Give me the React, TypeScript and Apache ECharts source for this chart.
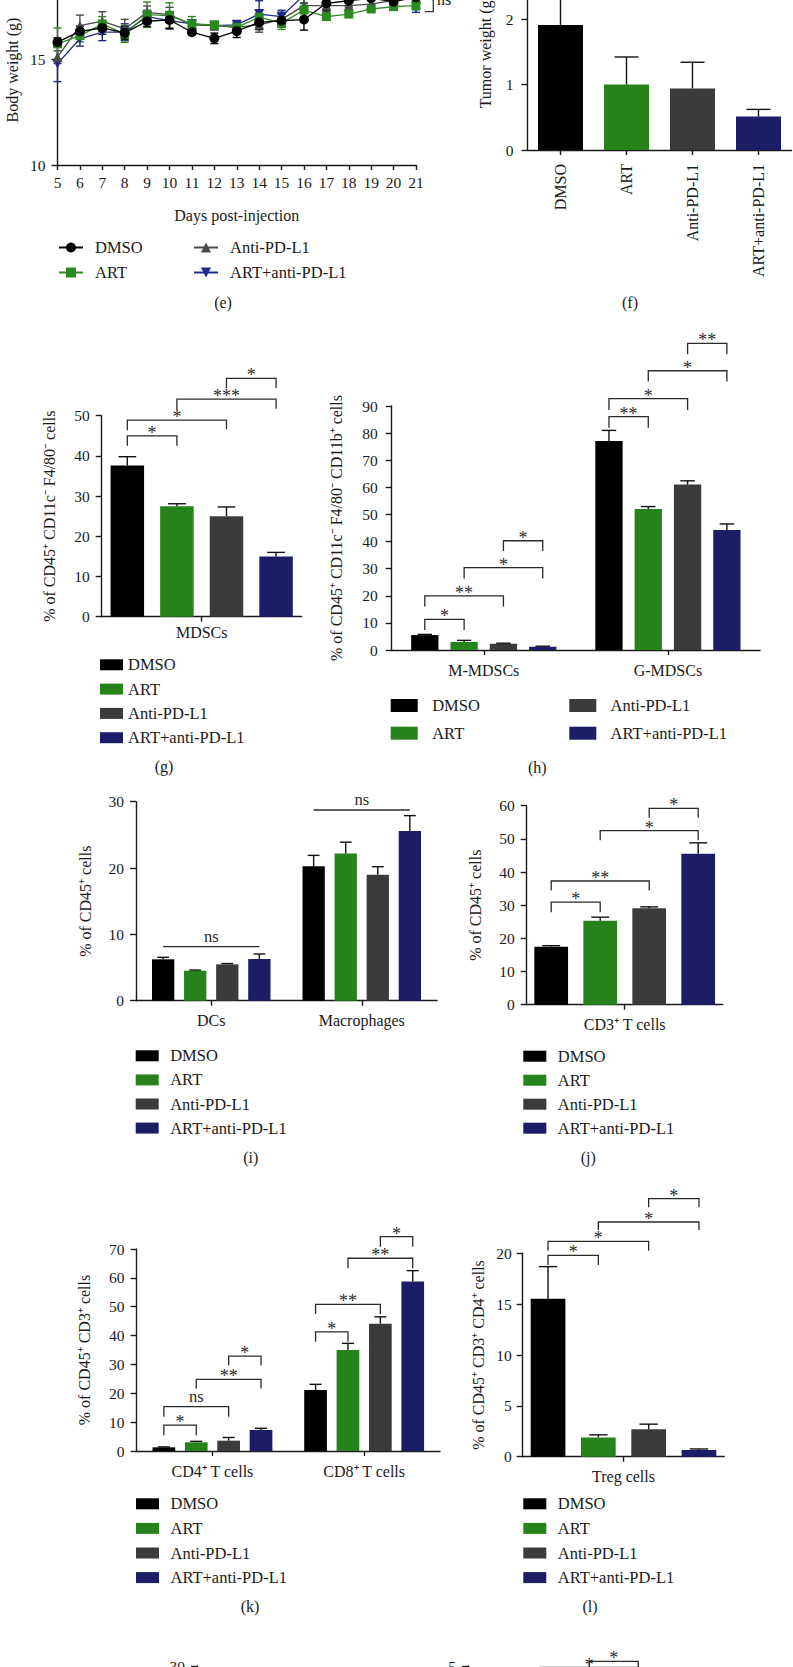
import React, { useEffect, useRef } from "react";
import * as echarts from "echarts";

const FONT = '"Liberation Serif", "Times New Roman", Times, serif';
const INK = "#1a1a1a";
const OY = 60; // the chart canvas starts above the page top (figure is cropped at the top)

const GROUPS = ["DMSO", "ART", "Anti-PD-L1", "ART+anti-PD-L1"];
const BAR_COLORS = ["#000000", "#26821a", "#3a3b3b", "#1b1e67"];
const LINE_COLORS = ["#000000", "#2b8a1f", "#4a4a4a", "#1f2a88"];
const LINE_SYMBOLS = ["circle", "rect", "triangle", "triangle"];

// (e) body weight over time
const DAYS = [5, 6, 7, 8, 9, 10, 11, 12, 13, 14, 15, 16, 17, 18, 19, 20, 21];
const BW_DMSO = [15.82, 16.33, 16.49, 16.26, 16.81, 16.87, 16.29, 16.0, 16.34, 16.76, 16.84, 16.89, 17.66, 17.78, 17.9, 17.74, 17.95];
const BW_DMSO_SD = [0.2, 0.25, 0.3, 0.3, 0.25, 0.4, 0.08, 0.25, 0.3, 0.35, 0.3, 0.5, 0.35, 0.3, 0.3, 0.3, 0.3];
const BW_ART = [15.74, 16.13, 16.68, 16.21, 17.12, 17.08, 16.68, 16.64, 16.52, 17.0, 16.72, 17.34, 17.03, 17.15, 17.39, 17.5, 17.55];
const BW_ART_SD = [0.75, 0.3, 0.35, 0.4, 0.6, 0.6, 0.35, 0.1, 0.1, 0.35, 0.3, 0.35, 0.15, 0.15, 0.15, 0.15, 0.2];
const BW_ANTI = [15.11, 16.6, 16.81, 16.45, 17.23, 17.12, 16.64, 16.6, 16.52, 16.64, 16.9, 17.55, 17.55, 17.55, 17.62, 17.8, 17.9];
const BW_ANTI_SD = [0.3, 0.5, 0.45, 0.45, 0.3, 0.35, 0.1, 0.1, 0.2, 0.35, 0.3, 0.3, 0.3, 0.3, 0.3, 0.3, 0.3];
const BW_COMBO = [14.8, 15.98, 16.29, 16.29, 17.03, 16.84, 16.68, 16.6, 16.64, 17.15, 17.03, 18.05, 18.4, 18.5, 18.6, 18.7, 17.65];
const BW_COMBO_SD = [0.85, 0.35, 0.4, 0.4, 0.3, 0.4, 0.1, 0.1, 0.15, 0.63, 0.3, 0.4, 0.4, 0.4, 0.4, 0.4, 0.42];

// (f) tumour weight
const TUMOR_WEIGHT = [1.91, 1.0, 0.94, 0.51];
const TUMOR_WEIGHT_SD = [0.6, 0.42, 0.4, 0.11];

// significance brackets: [category, groupA, groupB, topValue, legAValue, legBValue, label]
// (g) MDSCs
const MDSC_CATS = ["MDSCs"];
const MDSC_MEAN = [[37.6], [27.5], [25.0], [15.0]];
const MDSC_SD = [[2.2], [0.6], [2.3], [1.0]];
const MDSC_SIG = [
  [0, 0, 1, 45.0, 42.5, 42.5, "*"],
  [0, 0, 2, 48.9, 46.4, 46.6, "*"],
  [0, 1, 3, 54.1, 51.4, 51.7, "***"],
  [0, 2, 3, 59.3, 56.9, 56.9, "*"],
];

// (h) MDSC subsets
const SUBSET_CATS = ["M-MDSCs", "G-MDSCs"];
const SUBSET_MEAN = [[5.5, 77.1], [2.95, 52.0], [2.3, 61.0], [1.2, 44.3]];
const SUBSET_SD = [[0.25, 3.9], [0.6, 0.9], [0.2, 1.4], [0.2, 2.2]];
const SUBSET_SIG = [
  [0, 0, 1, 11.3, 7.4, 7.4, "*"],
  [0, 0, 2, 20.0, 16.0, 16.0, "**"],
  [0, 1, 3, 30.4, 26.4, 26.4, "*"],
  [0, 2, 3, 40.3, 36.5, 36.5, "*"],
  [1, 0, 1, 86.1, 82.0, 82.0, "**"],
  [1, 0, 2, 92.7, 88.5, 88.5, "*"],
  [1, 1, 3, 103.0, 99.0, 99.0, "*"],
  [1, 2, 3, 113.1, 109.1, 109.1, "**"],
];

// (i) DCs and macrophages
const APC_CATS = ["DCs", "Macrophages"];
const APC_MEAN = [[6.24, 20.26], [4.52, 22.2], [5.48, 19.0], [6.29, 25.6]];
const APC_SD = [[0.3, 1.65], [0.1, 1.7], [0.12, 1.2], [0.75, 2.3]];
const APC_SIG = [
  [0, 0, 3, 8.14, 8.14, 8.14, "ns"],
  [1, 0, 3, 28.75, 28.75, 28.75, "ns"],
];

// (j) CD3+ T cells
const CD3_CATS = ["CD3\u207A T cells"];
const CD3_MEAN = [[17.5], [25.3], [29.1], [45.5]];
const CD3_SD = [[0.3], [1.1], [0.4], [3.3]];
const CD3_SIG = [
  [0, 0, 1, 30.9, 27.9, 27.9, "*"],
  [0, 0, 2, 37.3, 34.4, 34.4, "**"],
  [0, 1, 3, 52.5, 49.6, 49.6, "*"],
  [0, 2, 3, 59.2, 56.4, 56.4, "*"],
];

// (k) CD4+ / CD8+ T cells
const TSUB_CATS = ["CD4\u207A T cells", "CD8\u207A T cells"];
const TSUB_MEAN = [[1.27, 21.1], [3.0, 35.0], [3.58, 44.1], [7.27, 58.7]];
const TSUB_SD = [[0.15, 2.0], [0.35, 2.3], [1.1, 2.4], [0.6, 3.8]];
const TSUB_SIG = [
  [0, 0, 1, 9.0, 5.5, 5.5, "*"],
  [0, 0, 2, 15.35, 11.9, 11.9, "ns"],
  [0, 1, 3, 24.8, 21.7, 21.7, "**"],
  [0, 2, 3, 32.9, 29.6, 29.6, "*"],
  [1, 0, 1, 41.3, 37.9, 37.9, "*"],
  [1, 0, 2, 50.8, 47.5, 47.5, "**"],
  [1, 1, 3, 66.8, 63.3, 63.3, "**"],
  [1, 2, 3, 74.3, 70.8, 70.8, "*"],
];

// (l) Treg cells
const TREG_CATS = ["Treg cells"];
const TREG_MEAN = [[15.54], [1.9], [2.7], [0.66]];
const TREG_SD = [[3.15], [0.25], [0.5], [0.1]];
const TREG_SIG = [
  [0, 0, 1, 19.8, 18.85, 18.85, "*"],
  [0, 0, 2, 21.18, 20.26, 20.26, "*"],
  [0, 1, 3, 23.08, 22.29, 22.29, "*"],
  [0, 2, 3, 25.37, 24.52, 24.52, "*"],
];

// next row (cut off at the bottom)
const NEXT_LEFT_MAX = 30;
const NEXT_RIGHT_MAX = 5;
const NEXT_RIGHT_SIG = [
  [0, 2, 3, 5.47, 4.9, 4.9, "*"],
  [0, 1, 3, 4.85, 4.6, 4.6, "*"],
];

function barX(center: number, s: number, w: number, g: number, n: number) {
  const total = n * w + (n - 1) * g * w;
  return center - total / 2 + w / 2 + s * w * (1 + g);
}

function buildOption() {
  const grids: any[] = [];
  const xAxes: any[] = [];
  const yAxes: any[] = [];
  const series: any[] = [];
  const legends: any[] = [];

  const lineStyle = { color: INK, width: 1.4 };
  const axisLine = { show: true, lineStyle };
  const yTick = { show: true, length: 6, lineStyle };
  const tickLabel = (margin: number) => ({ fontSize: 15.5, fontFamily: FONT, color: INK, margin });
  const nameTextStyle = { fontSize: 16, fontFamily: FONT, color: INK };
  const legendText = (pad: number) => ({ fontSize: 16.5, fontFamily: FONT, color: INK, padding: [0, 0, 0, pad] });

  const errSeries = (gi: number, pts: number[][], w: number, g: number, n: number, capW: number, colorFn: (s: number) => string, both: boolean, z: number) => ({
    type: "custom",
    xAxisIndex: gi,
    yAxisIndex: gi,
    silent: true,
    z,
    itemStyle: { color: "#111" },
    data: pts,
    encode: { x: 0, y: 2 },
    renderItem: (params: any, api: any) => {
      const c = api.value(0);
      const s = api.value(1);
      const v = api.value(2);
      const e = api.value(3);
      const base = api.coord([c, both ? v - e : v]);
      const top = api.coord([c, v + e]);
      const x = n > 0 ? barX(base[0], s, w, g, n) : base[0];
      const st = { stroke: colorFn(s), lineWidth: 1.4 };
      const children: any[] = [
        { type: "line", shape: { x1: x, y1: base[1], x2: x, y2: top[1] }, style: st },
        { type: "line", shape: { x1: x - capW / 2, y1: top[1], x2: x + capW / 2, y2: top[1] }, style: st },
      ];
      if (both) children.push({ type: "line", shape: { x1: x - capW / 2, y1: base[1], x2: x + capW / 2, y2: base[1] }, style: st });
      return { type: "group", children };
    },
  });

  const sigSeries = (gi: number, sig: any[], w: number, g: number, n: number) => ({
    type: "custom",
    xAxisIndex: gi,
    yAxisIndex: gi,
    silent: true,
    clip: false,
    z: 5,
    itemStyle: { color: "#2a2a2a" },
    data: sig.map((s) => [s[0], s[3], s[1], s[2], s[4], s[5]]),
    encode: { x: 0, y: 1 },
    renderItem: (params: any, api: any) => {
      const cat = api.value(0);
      const top = api.value(1);
      const a = api.value(2);
      const b = api.value(3);
      const pt = api.coord([cat, top]);
      const ya = api.coord([cat, api.value(4)])[1];
      const yb = api.coord([cat, api.value(5)])[1];
      const xa = barX(pt[0], a, w, g, n);
      const xb = barX(pt[0], b, w, g, n);
      const label = sig[params.dataIndex][6];
      const ns = label === "ns";
      return {
        type: "group",
        children: [
          { type: "polyline", shape: { points: [[xa, ya], [xa, pt[1]], [xb, pt[1]], [xb, yb]] }, style: { stroke: "#2a2a2a", lineWidth: 1.3, fill: "none" } },
          {
            type: "text",
            x: (xa + xb) / 2,
            y: pt[1] - (ns ? 10 : 3),
            style: { text: label, font: (ns ? "16.5px " : "18px ") + FONT, fill: "#2a2a2a", align: "center", verticalAlign: "middle" },
          },
        ],
      };
    },
  });

  const barLegend = (idx: number[], left: number, top: number, w: number, h: number, gap: number, pad: number) => ({
    orient: "vertical",
    left,
    top: top + OY,
    padding: 0,
    itemGap: gap,
    itemWidth: w,
    itemHeight: h,
    selectedMode: false,
    textStyle: legendText(pad),
    data: idx.map((i) => ({ name: GROUPS[i], icon: "rect", itemStyle: { color: BAR_COLORS[i], borderWidth: 0 } })),
  });

  // ---------- (e) ----------
  grids.push({ left: 57.5, top: -25 + OY, width: 358.5, height: 190 });
  xAxes.push({
    type: "value", gridIndex: 0, min: 5, max: 21, interval: 1,
    axisLine, axisTick: { show: true, length: 5, lineStyle }, axisLabel: tickLabel(9), splitLine: { show: false },
    name: "Days post-injection", nameLocation: "middle", nameGap: 42, nameTextStyle,
  });
  yAxes.push({
    type: "value", gridIndex: 0, min: 10, max: 19, interval: 5,
    axisLine, axisTick: { ...yTick, customValues: [10, 15] }, axisLabel: { ...tickLabel(12), customValues: [10, 15] }, splitLine: { show: false },
    name: "Body weight (g)", nameLocation: "middle", nameGap: 37, nameTextStyle,
  });
  const BW = [BW_DMSO, BW_ART, BW_ANTI, BW_COMBO];
  const BW_SD = [BW_DMSO_SD, BW_ART_SD, BW_ANTI_SD, BW_COMBO_SD];
  [3, 2, 1, 0].forEach((s) => {
    series.push({
      type: "line", name: GROUPS[s], xAxisIndex: 0, yAxisIndex: 0,
      data: DAYS.map((d, i) => [d, BW[s][i]]),
      symbol: LINE_SYMBOLS[s], symbolSize: s === 1 ? 9 : 10, symbolRotate: s === 3 ? 180 : 0,
      lineStyle: { color: LINE_COLORS[s], width: 1.3 }, itemStyle: { color: LINE_COLORS[s] },
      z: 3, clip: false,
    });
  });
  [3, 2, 1, 0].forEach((s) => {
    series.push(errSeries(0, DAYS.map((d, i) => [d, s, BW[s][i], BW_SD[s][i]]), 0, 0, 0, 8, () => LINE_COLORS[s], true, 2));
  });
  legends.push({
    orient: "vertical", left: 58, top: 239 + OY, padding: 0, itemGap: 8, itemWidth: 24, itemHeight: 12.5, selectedMode: false,
    textStyle: legendText(7),
    data: [GROUPS[0], GROUPS[1]],
  });
  legends.push({
    orient: "vertical", left: 193, top: 239 + OY, padding: 0, itemGap: 8, itemWidth: 24, itemHeight: 12.5, selectedMode: false,
    textStyle: legendText(7),
    data: [GROUPS[2], GROUPS[3]],
  });

  // ---------- (f) ----------
  grids.push({ left: 527.5, top: -46.5 + OY, width: 264, height: 196.5 });
  xAxes.push({
    type: "category", gridIndex: 1, data: GROUPS,
    axisLine, axisTick: { show: true, alignWithLabel: true, length: 5, lineStyle },
    axisLabel: { fontSize: 16, fontFamily: FONT, color: INK, rotate: 90, margin: 14 }, splitLine: { show: false },
  });
  yAxes.push({
    type: "value", gridIndex: 1, min: 0, max: 3, interval: 1,
    axisLine, axisTick: { ...yTick, customValues: [0, 1, 2] }, axisLabel: { ...tickLabel(14), customValues: [0, 1, 2] }, splitLine: { show: false },
    name: "Tumor weight (g)", nameLocation: "middle", nameGap: 34.5, nameTextStyle,
  });
  series.push({
    type: "bar", xAxisIndex: 1, yAxisIndex: 1, barWidth: 45,
    data: TUMOR_WEIGHT.map((v, i) => ({ value: v, itemStyle: { color: BAR_COLORS[i] } })),
    z: 2,
  });
  series.push(errSeries(1, TUMOR_WEIGHT.map((v, i) => [i, 0, v, TUMOR_WEIGHT_SD[i]]), 45, 0, 1, 24, () => "#111", false, 3));

  // ---------- bar panels (g)-(l) ----------
  const panels = [
    { cats: MDSC_CATS, mean: MDSC_MEAN, sd: MDSC_SD, sig: MDSC_SIG, grid: { left: 101.7, top: 415.7, width: 200, height: 201 }, y: [0, 50, 10], w: 33.5, g: 0.48, catMargin: 8, name: "% of CD45\u207A CD11c\u207B F4/80\u207B cells", nameGap: 44, tickMargin: 12,
      legends: [barLegend([0, 1, 2, 3], 100, 656.3, 23, 11, 7.3, 0)] },
    { cats: SUBSET_CATS, mean: SUBSET_MEAN, sd: SUBSET_SD, sig: SUBSET_SIG, grid: { left: 391.7, top: 406, width: 368.3, height: 244 }, y: [0, 90, 10], w: 27.3, g: 0.44, catMargin: 12.5, name: "% of CD45\u207A CD11c\u207B F4/80\u207B CD11b\u207A cells", nameGap: 47, tickMargin: 14,
      legends: [barLegend([0, 1], 390.7, 697, 27, 13, 10.7, 9.5), barLegend([2, 3], 569.3, 697, 27, 13, 10.7, 9.3)] },
    { cats: APC_CATS, mean: APC_MEAN, sd: APC_SD, sig: APC_SIG, grid: { left: 136, top: 801.7, width: 301, height: 199 }, y: [0, 30, 10], w: 22.3, g: 0.438, catMargin: 12, name: "% of CD45\u207A cells", nameGap: 43, tickMargin: 12,
      legends: [barLegend([0, 1, 2, 3], 135.7, 1047.3, 23, 11, 7.1, 6.5)] },
    { cats: CD3_CATS, mean: CD3_MEAN, sd: CD3_SD, sig: CD3_SIG, grid: { left: 526.7, top: 805.7, width: 196, height: 199 }, y: [0, 60, 10], w: 33.7, g: 0.454, catMargin: 12, name: "% of CD45\u207A cells", nameGap: 43.7, tickMargin: 12,
      legends: [barLegend([0, 1, 2, 3], 523.3, 1047.7, 23, 11, 7, 6.5)] },
    { cats: TSUB_CATS, mean: TSUB_MEAN, sd: TSUB_SD, sig: TSUB_SIG, grid: { left: 136.6, top: 1249, width: 303.4, height: 202 }, y: [0, 70, 10], w: 22.7, g: 0.427, catMargin: 12.5, name: "% of CD45\u207A CD3\u207A cells", nameGap: 44.4, tickMargin: 12,
      legends: [barLegend([0, 1, 2, 3], 136, 1495.3, 23, 11, 7.6, 6.5)] },
    { cats: TREG_CATS, mean: TREG_MEAN, sd: TREG_SD, sig: TREG_SIG, grid: { left: 522.7, top: 1253.3, width: 201.6, height: 203.4 }, y: [0, 20, 5], w: 34.7, g: 0.45, catMargin: 12, name: "% of CD45\u207A CD3\u207A CD4\u207A cells", nameGap: 36.4, tickMargin: 11,
      legends: [barLegend([0, 1, 2, 3], 523.3, 1495.3, 23, 11, 7.6, 6.5)] },
  ];

  panels.forEach((p) => {
    const gi = grids.length;
    grids.push({ ...p.grid, top: p.grid.top + OY });
    xAxes.push({
      type: "category", gridIndex: gi, data: p.cats,
      axisLine, axisTick: { show: true, alignWithLabel: true, length: 5, lineStyle },
      axisLabel: { fontSize: 16, fontFamily: FONT, color: INK, margin: p.catMargin }, splitLine: { show: false },
    });
    yAxes.push({
      type: "value", gridIndex: gi, min: p.y[0], max: p.y[1], interval: p.y[2],
      axisLine, axisTick: yTick, axisLabel: tickLabel(p.tickMargin), splitLine: { show: false },
      name: p.name, nameLocation: "middle", nameGap: p.nameGap, nameTextStyle,
    });
    GROUPS.forEach((gname, s) => {
      series.push({
        type: "bar", name: gname, xAxisIndex: gi, yAxisIndex: gi, data: p.mean[s],
        barWidth: p.w, barGap: p.g * 100 + "%", itemStyle: { color: BAR_COLORS[s] }, z: 2,
      });
    });
    const pts: number[][] = [];
    p.mean.forEach((arr, s) => arr.forEach((v, c) => pts.push([c, s, v, p.sd[s][c]])));
    series.push(errSeries(gi, pts, p.w, p.g, 4, p.w * 0.53, () => "#111", false, 3));
    series.push(sigSeries(gi, p.sig, p.w, p.g, 4));
    p.legends.forEach((l) => legends.push(l));
  });

  // ---------- next row, cut off at the bottom ----------
  const mgi = grids.length;
  grids.push({ left: 197, top: 1666 + OY, width: 200, height: 200 });
  xAxes.push({ type: "category", gridIndex: mgi, data: [""], axisLine, axisTick: { show: false }, axisLabel: { show: false } });
  yAxes.push({
    type: "value", gridIndex: mgi, min: 0, max: NEXT_LEFT_MAX, interval: 10,
    axisLine, axisTick: { ...yTick, customValues: [NEXT_LEFT_MAX] }, axisLabel: { ...tickLabel(12), customValues: [NEXT_LEFT_MAX] }, splitLine: { show: false },
  });
  const ngi = grids.length;
  grids.push({ left: 468, top: 1666 + OY, width: 193.6, height: 200 });
  xAxes.push({ type: "category", gridIndex: ngi, data: [""], axisLine, axisTick: { show: false }, axisLabel: { show: false } });
  yAxes.push({
    type: "value", gridIndex: ngi, min: 0, max: NEXT_RIGHT_MAX, interval: 1,
    axisLine, axisTick: { ...yTick, customValues: [NEXT_RIGHT_MAX] }, axisLabel: { ...tickLabel(12), customValues: [NEXT_RIGHT_MAX] }, splitLine: { show: false },
  });
  series.push(sigSeries(ngi, NEXT_RIGHT_SIG, 35, 0.4, 4));

  const panelLabels: [string, number, number][] = [
    ["(e)", 223, 302], ["(f)", 630, 302], ["(g)", 164, 766.7], ["(h)", 537.3, 767.3],
    ["(i)", 250.7, 1157.3], ["(j)", 588.3, 1157.3], ["(k)", 250, 1606.7], ["(l)", 590, 1606.7],
  ];
  const graphicEls: any[] = panelLabels.map(([t, x, y]) => ({
    type: "text", x, y: y + OY,
    style: { text: t, font: "16px " + FONT, fill: INK, textAlign: "center", textVerticalAlign: "middle" },
  }));
  graphicEls.push({ type: "polyline", shape: { points: [[433.3, -5 + OY], [433.3, 11.7 + OY], [425, 11.7 + OY]] }, style: { stroke: "#333", lineWidth: 1.3, fill: "none" } });
  graphicEls.push({ type: "text", x: 437, y: 7 + OY, style: { text: "ns", font: "16px " + FONT, fill: INK, textAlign: "left", textVerticalAlign: "bottom" } });

  return {
    animation: false,
    backgroundColor: "#ffffff",
    textStyle: { fontFamily: FONT },
    grid: grids,
    xAxis: xAxes,
    yAxis: yAxes,
    legend: legends,
    series,
    graphic: { elements: graphicEls },
  };
}

export default function App() {
  const ref = useRef<HTMLDivElement>(null);
  useEffect(() => {
    if (!ref.current) return;
    const chart = echarts.init(ref.current, null, { renderer: "svg" });
    chart.setOption(buildOption() as any);
    return () => chart.dispose();
  }, []);
  return (
    <div
      ref={ref}
      style={{ position: "absolute", left: 0, top: -OY, width: 793, height: 1667 + OY, background: "#fff" }}
    />
  );
}
